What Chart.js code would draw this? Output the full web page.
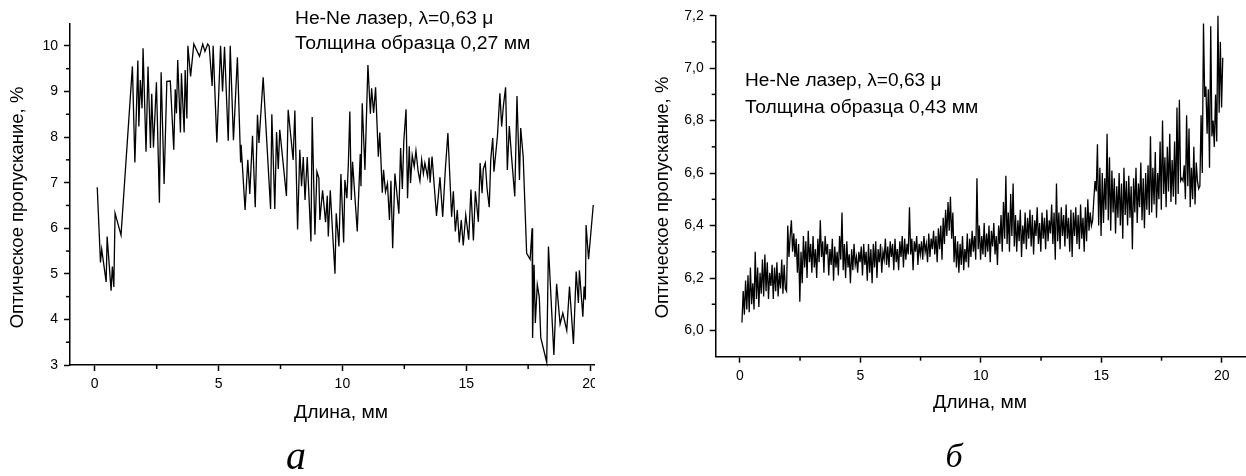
<!DOCTYPE html>
<html><head><meta charset="utf-8">
<script src="https://cdn.jsdelivr.net/npm/chart.js@4.4.1/dist/chart.umd.min.js"></script>
<style>
html,body{margin:0;padding:0;background:#fff;}
body{width:1246px;height:476px;position:relative;overflow:hidden;}
#wa{position:absolute;left:0;top:0;width:595px;height:476px;overflow:hidden;}
#wb{position:absolute;left:623px;top:0;width:623px;height:476px;overflow:hidden;}
canvas{position:absolute;left:0;top:0;}
</style></head><body>
<div id="wa"><canvas id="ca" width="623" height="476" style="width:623px;height:476px"></canvas></div>
<div id="wb"><canvas id="cb" width="660" height="476" style="width:660px;height:476px"></canvas></div>
<script>
// ---------- Panel a (sample 0,27 mm) ----------
const leftX = [0.1,0.23,0.28,0.46,0.5,0.66,0.71,0.77,0.82,1.06,1.52,1.62,1.74,1.78,1.84,1.91,1.95,2.07,2.15,2.25,2.3,2.37,2.49,2.61,2.68,2.8,2.91,3.05,3.19,3.25,3.3,3.35,3.46,3.5,3.61,3.65,3.72,3.76,3.87,4.0,4.23,4.36,4.45,4.56,4.62,4.74,4.78,4.93,5.08,5.16,5.24,5.39,5.47,5.6,5.76,5.89,5.91,6.07,6.18,6.26,6.37,6.48,6.57,6.63,6.8,7.1,7.15,7.27,7.34,7.41,7.47,7.74,7.81,8.01,8.08,8.19,8.28,8.35,8.42,8.49,8.58,8.73,8.78,8.89,8.97,9.05,9.09,9.2,9.32,9.39,9.43,9.51,9.59,9.7,9.75,9.86,9.94,10.05,10.1,10.18,10.24,10.3,10.36,10.41,10.6,10.72,10.75,10.8,10.91,11.03,11.13,11.18,11.26,11.34,11.45,11.51,11.61,11.66,11.74,11.82,11.9,11.96,12.03,12.12,12.28,12.35,12.42,12.48,12.57,12.63,12.7,12.75,12.82,12.9,12.97,13.06,13.13,13.2,13.27,13.33,13.44,13.5,13.54,13.62,13.8,13.94,14.05,14.16,14.26,14.41,14.48,14.56,14.64,14.72,14.8,14.88,14.98,15.1,15.19,15.29,15.37,15.49,15.56,15.64,15.69,15.77,15.84,15.93,15.99,16.07,16.12,16.26,16.36,16.43,16.5,16.59,16.66,16.74,16.83,16.96,17.05,17.15,17.2,17.3,17.44,17.58,17.66,17.68,17.74,17.79,17.87,17.95,18.01,18.25,18.32,18.54,18.65,18.79,18.9,19.06,19.17,19.33,19.44,19.53,19.57,19.71,19.76,19.81,19.84,19.94,20.13];
const leftY = [6.9,5.25,5.54,4.82,5.82,4.63,5.16,4.71,6.33,5.85,9.55,7.44,9.68,8.23,9.25,8.63,9.95,7.68,9.55,7.76,8.95,7.77,9.2,6.56,9.42,6.97,9.22,9.23,7.72,9.05,8.52,9.69,8.1,9.4,8.1,9.47,8.41,10.0,9.33,10.04,9.77,10.04,9.88,10.04,10.0,9.12,10.0,7.88,10.0,9.0,9.98,7.92,10.0,7.93,9.75,7.44,7.83,6.4,7.5,6.75,8.03,6.46,8.49,7.87,9.31,6.42,8.5,6.42,8.11,7.3,8.16,6.71,8.6,7.5,8.58,5.97,7.72,6.92,7.56,6.62,7.56,5.71,8.44,5.86,7.24,7.1,6.18,6.83,6.13,6.71,5.82,6.83,6.04,5.0,6.33,5.6,7.19,5.69,7.06,6.66,7.41,8.56,6.62,7.46,5.93,7.63,6.92,8.74,7.28,9.58,8.51,9.07,8.53,9.09,7.57,8.1,6.78,7.28,6.8,6.98,6.18,7.04,5.56,7.2,6.32,7.76,6.86,7.92,8.61,6.66,7.8,6.99,7.6,7.35,7.7,7.24,7.04,7.5,7.2,7.43,7.13,7.55,7.0,7.57,6.27,7.12,6.25,7.32,8.09,6.25,6.81,5.93,6.4,5.69,6.18,5.62,6.29,5.75,6.85,5.73,6.81,6.14,7.43,6.77,7.3,7.43,6.88,6.46,7.51,7.98,7.24,8.02,8.96,8.23,8.68,9.09,7.28,8.24,7.57,6.7,8.9,7.06,8.2,7.57,5.45,5.32,6.0,3.59,5.2,3.92,4.76,4.49,3.6,3.06,5.6,3.22,4.78,3.9,4.14,3.76,4.72,3.46,5.05,4.36,5.08,4.06,4.72,4.43,6.07,5.32,6.51];
const leftXTicks = [0,5,10,15,20];
const leftXMinor = [2.5,7.5,12.5,17.5];
const leftYTicks = [3,4,5,6,7,8,9,10];
const leftYMinor = [3.5,4.5,5.5,6.5,7.5,8.5,9.5];

// ---------- Panel б (sample 0,43 mm) ----------
const rightXStart = 0.09;   // first scan position, mm
const rightXStep = 0.05;    // scan step, mm
const rightY = [
6.03,6.15,6.06,6.19,6.08,6.21,6.07,6.24,6.10,6.18,6.08,6.30,6.12,6.24,6.09,6.22,6.14,6.27,6.13,6.29,
6.15,6.26,6.12,6.22,6.17,6.25,6.12,6.24,6.15,6.26,6.13,6.22,6.16,6.27,6.14,6.25,6.16,6.15,6.40,6.28,
6.36,6.42,6.30,6.37,6.28,6.35,6.22,6.33,6.11,6.30,6.18,6.36,6.24,6.34,6.20,6.38,6.26,6.33,6.22,6.36,
6.24,6.31,6.20,6.35,6.26,6.42,6.28,6.34,6.22,6.36,6.29,6.33,6.21,6.31,6.25,6.35,6.19,6.32,6.24,6.30,
6.21,6.36,6.27,6.45,6.23,6.33,6.20,6.34,6.24,6.29,6.18,6.31,6.23,6.33,6.25,6.28,6.22,6.30,6.26,6.32,
6.21,6.33,6.25,6.30,6.19,6.33,6.22,6.31,6.18,6.33,6.24,6.34,6.20,6.31,6.26,6.33,6.22,6.30,6.27,6.35,
6.25,6.32,6.24,6.34,6.28,6.33,6.23,6.35,6.26,6.31,6.23,6.34,6.28,6.36,6.24,6.35,6.27,6.33,6.29,6.47,
6.29,6.35,6.23,6.34,6.30,6.36,6.25,6.33,6.29,6.34,6.27,6.36,6.30,6.33,6.26,6.37,6.28,6.35,6.31,6.38,
6.29,6.36,6.26,6.39,6.31,6.40,6.27,6.43,6.33,6.46,6.36,6.49,6.38,6.51,6.35,6.45,6.26,6.36,6.24,6.34,
6.22,6.33,6.25,6.36,6.23,6.31,6.26,6.37,6.24,6.35,6.28,6.38,6.30,6.36,6.27,6.58,6.31,6.40,6.27,6.36,
6.29,6.41,6.28,6.37,6.30,6.40,6.26,6.38,6.32,6.41,6.29,6.36,6.25,6.40,6.33,6.44,6.30,6.49,6.35,6.59,
6.33,6.45,6.30,6.52,6.36,6.56,6.32,6.44,6.30,6.42,6.34,6.46,6.28,6.40,6.33,6.45,6.31,6.43,6.35,6.46,
6.32,6.44,6.29,6.42,6.36,6.47,6.33,6.41,6.30,6.45,6.35,6.43,6.31,6.46,6.34,6.42,6.37,6.48,6.33,6.45,
6.27,6.56,6.34,6.45,6.31,6.47,6.36,6.44,6.32,6.48,6.35,6.43,6.30,6.46,6.28,6.45,6.36,6.47,6.33,6.44,
6.31,6.48,6.35,6.43,6.30,6.47,6.34,6.50,6.38,6.45,6.40,6.42,6.50,6.57,6.53,6.71,6.40,6.62,6.36,6.60,
6.41,6.58,6.46,6.75,6.42,6.66,6.38,6.61,6.45,6.58,6.37,6.55,6.43,6.60,6.40,6.56,6.35,6.62,6.44,6.57,
6.40,6.59,6.43,6.55,6.31,6.58,6.45,6.62,6.41,6.56,6.47,6.64,6.42,6.58,6.39,6.60,6.46,6.63,6.44,6.74,
6.45,6.62,6.48,6.68,6.43,6.60,6.50,6.72,6.46,6.80,6.52,6.66,6.47,6.70,6.53,6.75,6.49,6.65,6.51,6.72,
6.48,6.85,6.52,6.88,6.57,6.58,6.57,6.63,6.50,6.82,6.55,6.77,6.47,6.62,6.50,6.70,6.48,6.64,6.57,6.54,
6.55,6.82,6.60,7.17,6.89,6.93,6.75,6.92,6.62,7.16,6.74,6.80,6.70,6.90,6.72,7.20,6.83,7.10,6.85,7.04];
const rightXTicks = [0,5,10,15,20];
const rightXMinor = [2.5,7.5,12.5,17.5];
const rightYTicks = [6.0,6.2,6.4,6.6,6.8,7.0,7.2];
const rightYMinor = [6.1,6.3,6.5,6.7,6.9,7.1];

// ---------- texts ----------
const yTitle = 'Оптическое пропускание, %';
const xTitle = 'Длина, мм';
const noteLine1 = 'He-Ne лазер, λ=0,63 μ';
const noteLeft2 = 'Толщина образца 0,27 мм';
const noteRight2 = 'Толщина образца 0,43 мм';

const SANS = '"Liberation Sans", Arial, sans-serif';
const SERIF = '"Liberation Serif", "Times New Roman", serif';

const decor = {
  id: 'decor',
  afterDraw(chart, args, o) {
    const ctx = chart.ctx, xs = chart.scales.x, ys = chart.scales.y;
    ctx.save();
    ctx.strokeStyle = '#000'; ctx.lineWidth = 1.5;
    o.xMinor.forEach(v => { const p = xs.getPixelForValue(v); ctx.beginPath(); ctx.moveTo(p, ys.bottom); ctx.lineTo(p, ys.bottom + 4); ctx.stroke(); });
    o.yMinor.forEach(v => { const p = ys.getPixelForValue(v); ctx.beginPath(); ctx.moveTo(xs.left, p); ctx.lineTo(xs.left - 4, p); ctx.stroke(); });
    ctx.fillStyle = '#000';
    o.texts.forEach(t => {
      ctx.save();
      ctx.font = t.font;
      ctx.textAlign = t.align || 'left';
      ctx.textBaseline = 'middle';
      ctx.translate(t.x, t.y);
      if (t.rot) ctx.rotate(t.rot);
      if (t.sx) ctx.scale(t.sx, 1);
      ctx.fillText(t.text, 0, 0);
      ctx.restore();
    });
    ctx.restore();
  }
};

function makeChart(id, xs, ys, cfg) {
  const pts = xs.map((x, i) => ({ x: x, y: ys[i] }));
  const tickFont = { family: SANS, size: 14 };
  return new Chart(document.getElementById(id), {
    type: 'line',
    data: { datasets: [{ data: pts, borderColor: '#000', borderWidth: 1.3, pointRadius: 0, tension: 0, fill: false, clip: 4 }] },
    options: {
      responsive: false, animation: false, devicePixelRatio: 1,
      layout: { padding: cfg.pad },
      plugins: { legend: { display: false }, tooltip: { enabled: false }, decor: { xMinor: cfg.xMinor, yMinor: cfg.yMinor, texts: cfg.texts } },
      scales: {
        x: {
          type: 'linear', min: cfg.xMin, max: cfg.xMax,
          afterBuildTicks: s => { s.ticks = cfg.xTicks.map(v => ({ value: v })); },
          afterFit: s => { s.height = cfg.xH; },
          grid: { drawOnChartArea: false, tickLength: 6, tickColor: '#000', tickWidth: 1.5 },
          border: { color: '#000', width: 1.5 },
          ticks: { color: '#000', font: tickFont, padding: 5, maxRotation: 0, autoSkip: false, callback: v => String(v) }
        },
        y: {
          type: 'linear', min: cfg.yMin, max: cfg.yMax,
          afterBuildTicks: s => { s.ticks = cfg.yTicks.map(v => ({ value: v })); },
          afterFit: s => { s.width = cfg.yW; },
          grid: { drawOnChartArea: false, tickLength: 6, tickColor: '#000', tickWidth: 1.5 },
          border: { color: '#000', width: 1.5 },
          ticks: { color: '#000', font: tickFont, padding: cfg.yPad, autoSkip: false, callback: cfg.yFmt }
        }
      }
    },
    plugins: [decor]
  });
}

const F18 = '18px ' + SANS;
const F185 = '18.5px ' + SANS;

makeChart('ca', leftX, leftY, {
  pad: { top: 24, right: 28, left: 0, bottom: 0 },
  xMin: -1, xMax: 20.2, yMin: 3, yMax: 10.48, xH: 111, yW: 70, yPad: 6,
  xTicks: leftXTicks, yTicks: leftYTicks, xMinor: leftXMinor, yMinor: leftYMinor,
  yFmt: v => String(v),
  texts: [
    { text: noteLine1, x: 295, y: 19.5, font: F18, sx: 1.07 },
    { text: noteLeft2, x: 295, y: 44.5, font: F18, sx: 1.08 },
    { text: yTitle, x: 17.5, y: 207.5, font: F185, align: 'center', rot: -Math.PI / 2 },
    { text: xTitle, x: 341, y: 412.5, font: F185, align: 'center', sx: 1.045 },
    { text: 'а', x: 296, y: 458, font: 'italic 40px ' + SERIF, align: 'center' }
  ]
});

const rightX = rightY.map((_, i) => +(rightXStart + i * rightXStep).toFixed(2));
const OFF = 623;
makeChart('cb', rightX, rightY, {
  pad: { top: 15.7, right: 37.1, left: 0, bottom: 0 },
  xMin: -1, xMax: 21, yMin: 5.9, yMax: 7.2, xH: 119.3, yW: 92.7, yPad: 6,
  xTicks: rightXTicks, yTicks: rightYTicks, xMinor: rightXMinor, yMinor: rightYMinor,
  yFmt: v => Number(v).toFixed(1).replace('.', ','),
  texts: [
    { text: noteLine1, x: 745 - OFF, y: 81.5, font: F18, sx: 1.06 },
    { text: noteRight2, x: 745 - OFF, y: 108.5, font: F18, sx: 1.07 },
    { text: yTitle, x: 662.5 - OFF, y: 197.5, font: F185, align: 'center', rot: -Math.PI / 2 },
    { text: xTitle, x: 980 - OFF, y: 403, font: F185, align: 'center', sx: 1.045 },
    { text: 'б', x: 954 - OFF, y: 458, font: 'italic 34px ' + SERIF, align: 'center' }
  ]
});
</script>
</body></html>
